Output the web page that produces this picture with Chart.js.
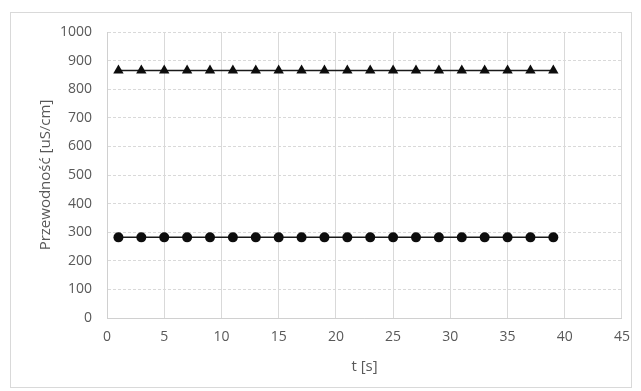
<!DOCTYPE html>
<html>
<head>
<meta charset="utf-8">
<script src="https://cdn.jsdelivr.net/npm/chart.js@4/dist/chart.umd.min.js"></script>
<style>
	html, body { margin: 0; padding: 0; background: #fff; }
	#wrap { width: 641px; height: 391px; position: relative; }
</style>
</head>
<body>
<div id="wrap"><canvas id="chart" width="641" height="391"></canvas></div>
<script>
"use strict";

const timeValues = [1, 3, 5, 7, 9, 11, 13, 15, 17, 19, 21, 23, 25, 27, 29, 31, 33, 35, 37, 39];
const upperValues = [865, 865, 865, 865, 865, 865, 865, 865, 865, 865, 865, 865, 865, 865, 865, 865, 865, 865, 865, 865];
const lowerValues = [282, 282, 282, 282, 282, 282, 282, 282, 282, 282, 282, 282, 282, 282, 282, 282, 282, 282, 282, 282];
const xTitle = "t [s]";
const yTitle = "Przewodność [uS/cm]";

function toPoints(xs, ys) {
	return xs.map((x, i) => ({ x: x, y: ys[i] }));
}

// outer frame round the whole chart
const framePlugin = {
	id: "frame",
	beforeDraw(chart) {
		const ctx = chart.ctx;
		ctx.save();
		ctx.fillStyle = "#fff";
		ctx.fillRect(0, 0, chart.width, chart.height);
		ctx.strokeStyle = "#d9d9d9";
		ctx.lineWidth = 1;
		ctx.strokeRect(10.5, 12.5, 621, 375);
		ctx.restore();
	},
};

const tickFont = { family: "'Open Sans', sans-serif", size: 14 };
const titleFont = { family: "'Open Sans', sans-serif", size: 15 };

new Chart(document.getElementById("chart"), {
	type: "scatter",
	plugins: [framePlugin],
	data: {
		datasets: [
			{
				data: toPoints(timeValues, upperValues),
				showLine: true,
				borderColor: "#1a1a1a",
				borderWidth: 1.5,
				backgroundColor: "#0d0d0d",
				pointStyle: "triangle",
				pointRadius: 6,
				pointBorderWidth: 0,
				pointBackgroundColor: "#0d0d0d",
			},
			{
				data: toPoints(timeValues, lowerValues),
				showLine: true,
				borderColor: "#1a1a1a",
				borderWidth: 1.5,
				backgroundColor: "#0d0d0d",
				pointStyle: "circle",
				pointRadius: 5,
				pointBorderWidth: 0,
				pointBackgroundColor: "#0d0d0d",
			},
		],
	},
	options: {
		responsive: false,
		animation: false,
		devicePixelRatio: 1,
		layout: { padding: { left: 37, right: 16, top: 32, bottom: 12 } },
		plugins: {
			legend: { display: false },
			tooltip: { enabled: false },
		},
		scales: {
			x: {
				type: "linear",
				min: 0,
				max: 45,
				ticks: { stepSize: 5, color: "#595959", font: tickFont, padding: 11, maxRotation: 0 },
				grid: { color: "#d9d9d9", drawTicks: false, lineWidth: 1 },
				border: { color: "#d0d0d0", width: 1 },
				title: { display: true, text: xTitle, color: "#595959", font: titleFont, padding: { top: 0, bottom: 3 } },
				afterFit(scale) { scale.height = 61; },
			},
			y: {
				min: 0,
				max: 1000,
				ticks: {
					stepSize: 100,
					color: "#595959",
					font: tickFont,
					padding: 15,
					autoSkip: false,
					callback: value => String(value),
				},
				grid: { color: "#d9d9d9", drawTicks: false, lineWidth: 1 },
				border: { color: "#d0d0d0", width: 1, dash: [3, 2] },
				title: { display: true, text: yTitle, color: "#595959", font: titleFont, padding: { top: 0, bottom: 0 } },
				afterFit(scale) { scale.width = 70; },
			},
		},
	},
});
</script>
</body>
</html>
